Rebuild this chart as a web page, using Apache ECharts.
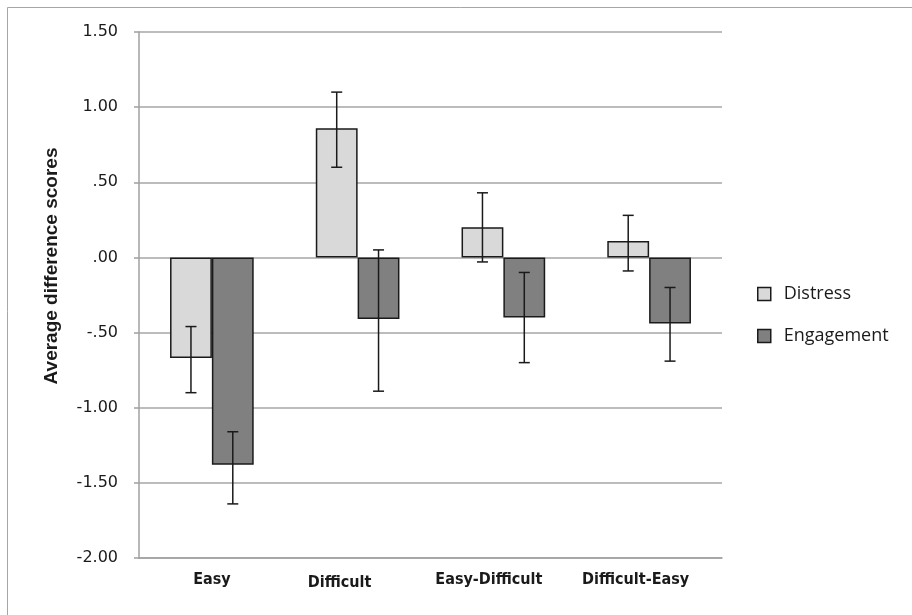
<!DOCTYPE html>
<html>
<head>
<meta charset="utf-8">
<script src="https://cdn.jsdelivr.net/npm/echarts@6/dist/echarts.min.js"></script>
<style>html,body{margin:0;padding:0;background:#fff;}#c{width:912px;height:615px;}</style>
</head>
<body>
<div id="c"></div>
<script>
const categories = ['Easy', 'Difficult', 'Easy-Difficult', 'Difficult-Easy'];
const distress = [-0.67, 0.86, 0.20, 0.11];
const distressLow = [-0.90, 0.60, -0.03, -0.09];
const distressHigh = [-0.46, 1.10, 0.43, 0.28];
const engagement = [-1.38, -0.41, -0.40, -0.44];
const engagementLow = [-1.64, -0.89, -0.70, -0.69];
const engagementHigh = [-1.16, 0.05, -0.10, -0.20];
const yMin = -2, yMax = 1.5, yStep = 0.5;
const yTitle = 'Average difference scores';

const CAT_GAP = 0.426;

function fmt(v) {
  let s = Math.abs(v).toFixed(2);
  if (s.startsWith('0')) s = s.slice(1);
  return (v < 0 ? '-' : '') + s;
}

function errSeries(name, low, high, side) {
  return {
    type: 'custom',
    name: name + ' err',
    z: 10,
    silent: true,
    data: categories.map((c, i) => [i, low[i], high[i]]),
    renderItem: function (params, api) {
      const i = api.value(0);
      const lo = api.coord([i, api.value(1)]);
      const hi = api.coord([i, api.value(2)]);
      const catW = api.size([1, 0])[0];
      const bw = catW * (1 - CAT_GAP) / 2;
      const x = lo[0] + side * bw / 2;
      const cap = 5.5;
      const st = { stroke: '#1a1a1a', lineWidth: 1.5 };
      return {
        type: 'group',
        children: [
          { type: 'line', shape: { x1: x, y1: lo[1], x2: x, y2: hi[1] }, style: st },
          { type: 'line', shape: { x1: x - cap, y1: lo[1], x2: x + cap, y2: lo[1] }, style: st },
          { type: 'line', shape: { x1: x - cap, y1: hi[1], x2: x + cap, y2: hi[1] }, style: st }
        ]
      };
    }
  };
}

const catFont = { fontFamily: 'DejaVu Sans Condensed, Liberation Sans Narrow, Liberation Sans, sans-serif', fontWeight: 'bold', fontSize: 16, color: '#1a1a1a' };
const catRich = {
  c0: Object.assign({}, catFont),
  c1: Object.assign({ padding: [3, 36, 0, 0] }, catFont),
  c2: Object.assign({ padding: [0, 29, 0, 0] }, catFont),
  c3: Object.assign({ padding: [0, 27, 0, 0] }, catFont)
};

const chart = echarts.init(document.getElementById('c'), null, { renderer: 'canvas' });
chart.setOption({
  animation: false,
  backgroundColor: '#ffffff',
  graphic: [{
    type: 'rect', shape: { x: 7.5, y: 7.5, width: 1000, height: 1000 },
    style: { fill: 'none', stroke: '#a6a6a6', lineWidth: 1 }, silent: true, z: -10
  }, {
    type: 'text', x: 52, y: 266, rotation: Math.PI / 2, silent: true,
    style: { text: yTitle, align: 'center', verticalAlign: 'middle', fill: '#1a1a1a',
      font: 'bold 19px "Liberation Sans", Arial, sans-serif' }
  }],
  grid: { left: 139, right: 190, top: 32, bottom: 57, containLabel: false },
  legend: {
    orient: 'vertical',
    left: 752,
    top: 280,
    icon: 'rect',
    itemWidth: 13,
    itemHeight: 13,
    itemGap: 24,
    data: ['Distress', 'Engagement'],
    textStyle: { fontFamily: 'Open Sans, Liberation Sans, sans-serif', fontSize: 18, lineHeight: 18, color: '#1a1a1a', padding: [0, 0, 0, 8] },
    itemStyle: { borderColor: '#1a1a1a', borderWidth: 1.5 }
  },
  xAxis: {
    type: 'category',
    data: categories,
    axisLine: { onZero: false, lineStyle: { color: '#a0a0a0', width: 1.5 } },
    axisTick: { show: false },
    axisLabel: {
      margin: 14,
      formatter: function (v, i) { return '{c' + i + '|' + v + '}'; },
      rich: catRich
    },
    splitLine: { show: false }
  },
  yAxis: {
    type: 'value',
    min: yMin, max: yMax, interval: yStep,
    axisLine: { show: true, lineStyle: { color: '#a0a0a0', width: 1.5 } },
    axisTick: { show: true, inside: false, length: 5, lineStyle: { color: '#a0a0a0', width: 1.5 } },
    axisLabel: { margin: 21, formatter: fmt, fontFamily: 'DejaVu Sans, sans-serif', fontSize: 16, color: '#1a1a1a' },
    splitLine: { show: true, lineStyle: { color: '#a6a6a6', width: 1.5 } }
  },
  series: [
    {
      name: 'Distress', type: 'bar', data: distress,
      barGap: '0%', barCategoryGap: (CAT_GAP * 100) + '%',
      itemStyle: { color: '#d9d9d9', borderColor: '#1a1a1a', borderWidth: 1.5 }
    },
    {
      name: 'Engagement', type: 'bar', data: engagement,
      barGap: '0%', barCategoryGap: (CAT_GAP * 100) + '%',
      itemStyle: { color: '#808080', borderColor: '#1a1a1a', borderWidth: 1.5 }
    },
    errSeries('Distress', distressLow, distressHigh, -1),
    errSeries('Engagement', engagementLow, engagementHigh, 1)
  ]
});
</script>
</body>
</html>
